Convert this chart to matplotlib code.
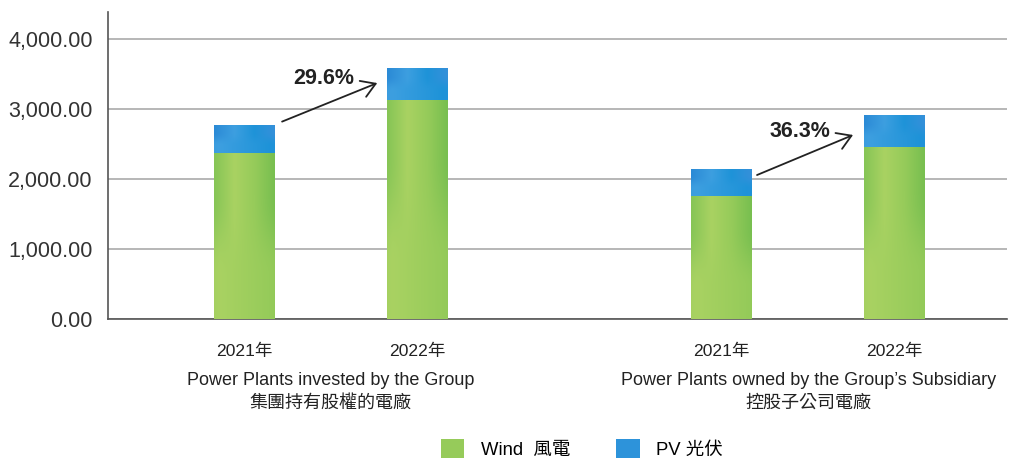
import matplotlib
matplotlib.use("Agg")
import matplotlib.pyplot as plt
import numpy as np
from matplotlib.patches import Patch
from matplotlib.colors import LinearSegmentedColormap

plt.rcParams['font.family'] = ['Liberation Sans', 'Noto Sans CJK TC', 'DejaVu Sans']

# data
years = ["2021年", "2022年", "2021年", "2022年"]
groups = ["Power Plants invested by the Group\n集團持有股權的電廠",
          "Power Plants owned by the Group’s Subsidiary\n控股子公司電廠"]
wind = [2370, 3130, 1755, 2455]
pv = [400, 460, 390, 460]
growth = ["29.6%", "36.3%"]

x = np.array([0, 1, 2.76, 3.76])
width = 0.35

fig = plt.figure(figsize=(10.23, 4.58), dpi=100)
ax = fig.add_axes([0.1056, 0.3035, 0.8788, 0.6703])

green_cmap = LinearSegmentedColormap.from_list("g", ["#86c556", "#a9d262", "#96cb5a", "#78bf50"])
blue_cmap = LinearSegmentedColormap.from_list("b", ["#2b8ad6", "#3d9fe0", "#1e93d8", "#3590da"])

grad = np.linspace(0, 1, 64).reshape(1, -1)
grad = np.vstack([grad, grad[:, ::-1] * 0.3 + grad * 0.7])

b1 = ax.bar(x, wind, width, color="#96cb5a", zorder=3)
b2 = ax.bar(x, pv, width, bottom=wind, color="#2d93da", zorder=3)
for bars, cmap in ((b1, green_cmap), (b2, blue_cmap)):
    for r in bars:
        x0, y0 = r.get_x(), r.get_y()
        im = ax.imshow(grad, cmap=cmap, aspect="auto", zorder=4,
                       extent=[x0, x0 + r.get_width(), y0, y0 + r.get_height()])
        im.set_clip_path(r)

ax.set_xlim(-0.786, 4.41)
ax.set_ylim(0, 4386)
ax.set_yticks([0, 1000, 2000, 3000, 4000])
ax.set_yticklabels(["{:,.2f}".format(v) for v in [0, 1000, 2000, 3000, 4000]],
                   fontsize=15.5, color="#333333")
ax.tick_params(axis="y", length=0, pad=11)
ax.set_xticks(x)
ax.set_xticklabels(years, fontsize=12.6, color="#222222")
ax.tick_params(axis="x", length=0, pad=18)
ax.yaxis.grid(True, color="#aaaaaa", linewidth=1.2, zorder=0)
ax.set_axisbelow(True)
for s in ["top", "right"]:
    ax.spines[s].set_visible(False)
ax.spines["left"].set_color("#555555")
ax.spines["bottom"].set_color("#555555")
ax.spines["left"].set_linewidth(1.2)
ax.spines["bottom"].set_linewidth(1.2)

# group labels
for cx, g in zip([(x[0] + x[1]) / 2, (x[2] + x[3]) / 2], groups):
    ax.text(cx, -760, g, ha="center", va="top", fontsize=13, color="#222222",
            linespacing=1.4)

# growth arrows
arrows = [((0.22, 2820), (0.77, 3371), (0.635, 3430)),
          ((2.965, 2057), (3.52, 2629), (3.39, 2680))]
for (start, end, lab), txt in zip(arrows, growth):
    ax.annotate("", xy=end, xytext=start,
                arrowprops=dict(arrowstyle="->,head_length=0.45,head_width=0.28",
                                color="#222222", lw=1.3,
                                mutation_scale=22, shrinkA=0, shrinkB=0), zorder=5)
    ax.text(lab[0], lab[1], txt, ha="right", va="center", fontsize=15.5,
            fontweight="bold", color="#222222")

handles = [Patch(facecolor="#96cb5a", label="Wind  風電"),
           Patch(facecolor="#2d93da", label="PV 光伏")]
fig.legend(handles=handles, loc="center", bbox_to_anchor=(0.569, 0.02), ncol=2,
           frameon=False, fontsize=13.3, handlelength=1.25, handleheight=1.25,
           columnspacing=2.5, handletextpad=0.9)

fig.savefig("out.png", dpi=100)
